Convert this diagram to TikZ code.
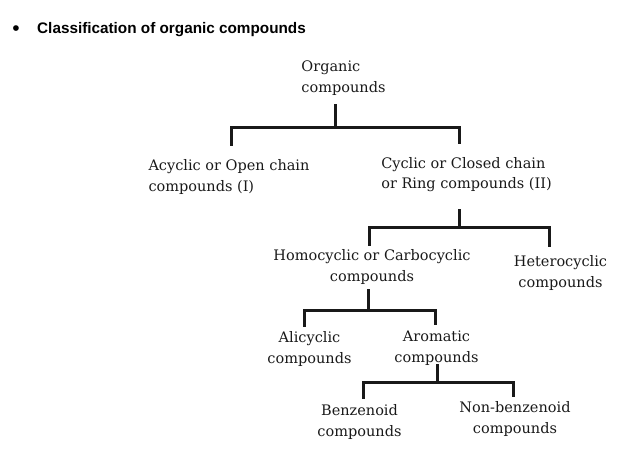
\documentclass[tikz,border=0pt]{standalone}
\usepackage{fontspec}
\setmainfont{DejaVu Serif}
\newfontfamily\titlefont{Liberation Sans}
\usetikzlibrary{calc}
\begin{document}
\begin{tikzpicture}[x=1pt,y=-1pt,
 box/.style={inner sep=0pt,font=\fontsize{14.5}{20.5}\selectfont,text=black!90},
 branch/.style={line width=3pt,draw=black!90}]
\useasboundingbox (0,0) rectangle (619,452);
\node (dot) at (16,31) {\titlefont\fontsize{21}{21}\selectfont\textbullet};
\node[anchor=west,inner sep=0pt,font=\titlefont\bfseries\fontsize{15.3}{18}\selectfont] (title) at (37,30) {Classification of organic compounds};
\foreach \n/\x/\y/\a/\t in {org/343.5/78/left/{Organic\\compounds},
  acy/229/177/left/{Acyclic or Open chain\\compounds (I)},
  cyc/466.5/174.5/left/{Cyclic or Closed chain\\or Ring compounds (II)},
  homo/372/267/center/{Homocyclic or Carbocyclic\\compounds},
  het/560.5/273/center/{Heterocyclic\\compounds},
  ali/309.5/349/center/{Alicyclic\\compounds},
  aro/436.5/348/center/{Aromatic\\compounds},
  ben/359.5/422/center/{Benzenoid\\compounds},
  non/515/419/center/{Non-benzenoid\\compounds}}
 \node[box,align=\a] (\n) at (\x,\y) {\t};
\coordinate (b1) at (335,127);
\coordinate (b2) at (459,227);
\coordinate (b3) at (368,310);
\coordinate (b4) at (437,382);
\draw[branch] ($(b1 |- org.south)+(0,9)$) -- (b1);
\draw[branch] ($(acy.north)+(2,-14)$) |- (b1) -| ($(cyc.north)+(-7.5,-13)$);
\draw[branch] ($(b2 |- cyc.south)+(0,17)$) -- (b2);
\draw[branch] ($(homo.north)+(-3,-4)$) |- (b2) -| ($(het.north)+(-11.5,-9)$);
\draw[branch] ($(b3 |- homo.south)+(0,5)$) -- (b3);
\draw[branch] ($(ali.north)+(-5.5,-5)$) |- (b3) -| ($(aro.north)+(-1.5,-6)$);
\draw[branch] ($(b4 |- aro.south)+(0,-1)$) -- (b4);
\draw[branch] ($(ben.north)+(3.5,-6)$) |- (b4) -| ($(non.north)+(-2,-5)$);
\end{tikzpicture}
\end{document}
